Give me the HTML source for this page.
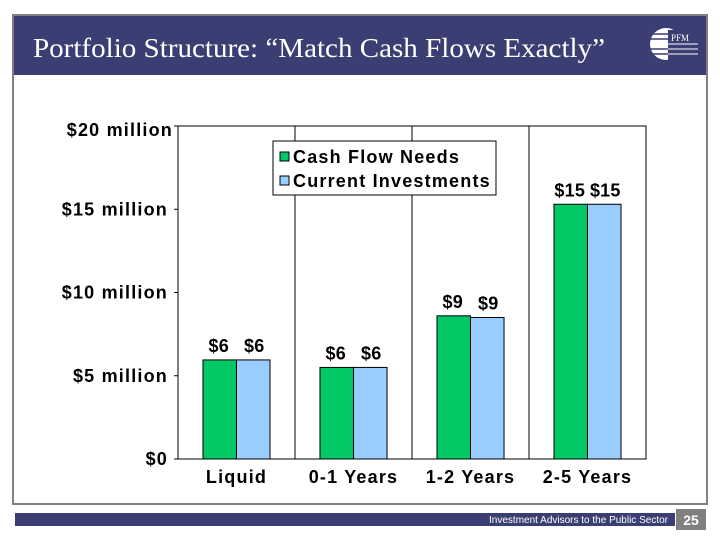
<!DOCTYPE html>
<html><head><meta charset="utf-8"><style>
body{margin:0;width:720px;height:540px;background:#fff;overflow:hidden;font-family:"Liberation Sans",Arial,sans-serif}
#chart text{letter-spacing:1.2px}
#chart text.val{letter-spacing:0.2px}
</style></head><body>
<svg width="720" height="540" xmlns="http://www.w3.org/2000/svg">
<rect x="13" y="15" width="694" height="489" fill="#fff" stroke="#808080" stroke-width="2"/>
<rect x="14" y="16" width="692" height="59" fill="#3b3e72"/>
<text x="33" y="57" fill="#fff" font-family="Liberation Serif,serif" font-size="27" textLength="572" lengthAdjust="spacingAndGlyphs">Portfolio Structure: “Match Cash Flows Exactly”</text>
<g>
<circle cx="666" cy="44" r="16" fill="#fff"/>
<g stroke="#3b3e72" stroke-width="1.5"><line x1="650" y1="34" x2="684" y2="34"/><line x1="650" y1="39" x2="684" y2="39"/><line x1="650" y1="49" x2="684" y2="49"/><line x1="650" y1="54" x2="684" y2="54"/></g>
<rect x="668" y="30" width="30" height="30" fill="#3b3e72"/>
<text x="671" y="41" fill="#fff" font-family="Liberation Serif,serif" font-size="9">PFM</text>
<line x1="668" y1="44" x2="698" y2="44" stroke="#fff"/><line x1="668" y1="49" x2="698" y2="49" stroke="#fff"/><line x1="668" y1="54" x2="698" y2="54" stroke="#fff"/>
</g>
<rect x="15" y="513" width="660" height="13" fill="#3b3e72"/>
<text x="668" y="523" fill="#fff" font-size="10" text-anchor="end">Investment Advisors to the Public Sector</text>
<rect x="676" y="509" width="30" height="21" fill="#808080"/>
<text x="691" y="525" fill="#fff" font-size="14" font-weight="bold" text-anchor="middle">25</text>
<g id="chart"></g>
</svg>
<script>
const categories=["Liquid","0-1 Years","1-2 Years","2-5 Years"];
const cashFlowNeeds=[5.95,5.5,8.6,15.3];
const currentInvestments=[5.95,5.5,8.5,15.3];
const needLabels=["$6","$6","$9","$15"];
const invLabels=["$6","$6","$9","$15"];
const yTicks=[0,5,10,15,20];
const yTickLabels=["$0","$5 million","$10 million","$15 million","$20 million"];
const NS="http://www.w3.org/2000/svg";
const g=document.getElementById('chart');
const L=178,R=646,T=126,B=459,yMax=20;
const y=v=>B-(v/yMax)*(B-T);
const cw=(R-L)/categories.length;
const x=i=>L+i*cw;
function mk(t,a,txt){const e=document.createElementNS(NS,t);for(const k in a)e.setAttribute(k,a[k]);if(txt!=null)e.textContent=txt;g.appendChild(e);return e;}
let e=mk('rect',{x:L,y:T,width:R-L,height:B-T,fill:'#fff',stroke:'#000','stroke-width':1});


for(let i=1;i<categories.length;i++){e=mk('line',{x1:x(i),x2:x(i),y1:T,y2:B,stroke:'#000'});

}
yTicks.forEach((v,i)=>{e=mk('line',{x1:L-4,x2:L,y1:y(v),y2:y(v),stroke:'#000'});


e=mk('text',{x:(v===20?L-5:L-10),y:y(v)+6+(v===20?4:0),'text-anchor':'end','font-size':'18','font-weight':'bold'},yTickLabels[i]);

});
const bw=cw*0.2865,off=(cw-2*bw)/2;
categories.forEach((c,i)=>{
const x0=x(i)+off;
e=mk('rect',{x:x0,y:y(cashFlowNeeds[i]),width:bw,height:B-y(cashFlowNeeds[i]),fill:'#00c864',stroke:'#000'});


e=mk('rect',{x:x0+bw,y:y(currentInvestments[i]),width:bw,height:B-y(currentInvestments[i]),fill:'#99ccff',stroke:'#000'});


e=mk('text',{class:'val',x:x0+bw/2-1,y:y(cashFlowNeeds[i])-8,'text-anchor':'middle','font-size':'18','font-weight':'bold'},needLabels[i]);


e=mk('text',{class:'val',x:x0+bw*1.5+1,y:y(currentInvestments[i])-8,'text-anchor':'middle','font-size':'18','font-weight':'bold'},invLabels[i]);


e=mk('text',{x:x(i)+cw/2,y:B+24,'text-anchor':'middle','font-size':'18','font-weight':'bold'},c);


});
e=mk('rect',{x:273,y:141,width:223,height:54,fill:'#fff',stroke:'#000'});


e=mk('rect',{x:280,y:152,width:9,height:9,fill:'#00c864',stroke:'#000'});


e=mk('text',{x:293,y:163,'font-size':'18','font-weight':'bold'},'Cash Flow Needs');


e=mk('rect',{x:280,y:176,width:9,height:9,fill:'#99ccff',stroke:'#000'});


e=mk('text',{x:293,y:187,'font-size':'18','font-weight':'bold'},'Current Investments');


</script>
</body></html>
